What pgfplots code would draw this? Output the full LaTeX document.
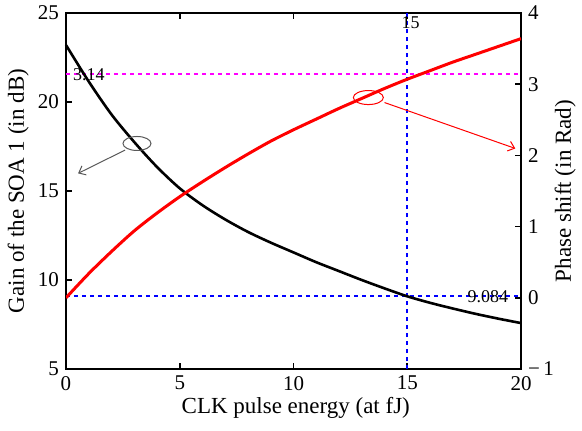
\documentclass[border=0pt]{standalone}
\usepackage{fontspec}
\setmainfont{Liberation Serif}
\usepackage{pgfplots}
\pgfplotsset{compat=1.18}
\usetikzlibrary{arrows.meta}
\definecolor{magline}{RGB}{255,0,255}
\begin{document}
\begin{tikzpicture}
\pgfplotsset{every axis/.append style={
  scale only axis, width=227.5pt, height=178pt,
  xmin=0, xmax=20,
  /pgf/number format/assume math mode=true,
  tick style={black, line width=0.8pt},
  major tick length=3pt, tick align=inside,
  axis line style={line width=1pt},
  tick label style={font=\fontsize{10.5}{12}\selectfont},
  label style={font=\fontsize{11.5}{13}\selectfont},
}}
\begin{axis}[name=ax,
  ymin=5, ymax=25,
  xtick={0,5,10,15,20}, ytick={5,10,15,20,25},
  ytick pos=left,
  xlabel={CLK pulse energy (at fJ)},
  ylabel={Gain of the SOA 1 (in dB)},
  xlabel style={at={(axis description cs:0.505,-0.11)}, anchor=center},
  ylabel style={at={(axis description cs:-0.105,0.5)}, anchor=center},
  clip=false]
% dashed guide lines
\addplot[blue, line width=0.9pt, dash pattern=on 2pt off 2pt] coordinates {(0,9.084) (20,9.084)};
\addplot[blue, line width=0.9pt, dash pattern=on 2pt off 2pt] coordinates {(15,5) (15,25)};
\addplot[magline, line width=1pt, dash pattern=on 2pt off 2pt] coordinates {(0,21.56) (20,21.56)};
% gain curve
\addplot[black, line width=1.3pt, smooth] coordinates {
(0,23.2) (1,21.15) (2,19.3) (3,17.75) (4,16.35) (5,15.15) (6,14.2) (7,13.4)
(8,12.7) (9,12.1) (10,11.55) (11,11.0) (12,10.5) (13,10.0) (14,9.53)
(15,9.084) (16,8.72) (17,8.4) (18,8.1) (19,7.83) (20,7.58)};
% annotations
\node[anchor=west, inner sep=0pt, font=\fontsize{9}{10}\selectfont] at (axis cs:0.3,21.56) {3.14};
\node[anchor=east, inner sep=0pt, font=\fontsize{9}{10}\selectfont] at (axis cs:19.45,9.084) {9.084};
\node[anchor=west, inner sep=0pt, font=\fontsize{9}{10}\selectfont] at (axis cs:14.74,24.45) {15};
\draw[black!65, line width=0.5pt] (axis cs:3.12,17.67) ellipse [x radius=7pt, y radius=3.5pt];
\draw[black!65, line width=0.5pt, -{Straight Barb[length=3pt,width=5pt]}] (axis cs:2.6,17.3) -- (axis cs:0.53,15.99);
\draw[red, line width=0.5pt] (axis cs:13.29,20.25) ellipse [x radius=7.5pt, y radius=3.5pt];
\draw[red, line width=0.5pt, -{Straight Barb[length=3pt,width=5pt]}] (axis cs:14.0,19.97) -- (axis cs:19.75,17.39);
\end{axis}
\begin{axis}[
  ymin=-1, ymax=4,
  axis x line=none, axis y line*=right,
  ytick={-1,0,1,2,3,4},
  yticklabels={−\,1,0,1,2,3,4},
  ylabel={Phase shift (in Rad)},
  ylabel style={at={(axis description cs:1.097,0.5)}, anchor=center}]
\addplot[red, line width=1.5pt, smooth] coordinates {
(0,0) (1,0.34) (2,0.65) (3,0.94) (4,1.19) (5,1.42) (6,1.63) (7,1.83)
(8,2.02) (9,2.20) (10,2.36) (11,2.51) (12,2.66) (13,2.80) (14,2.94)
(15,3.07) (16,3.19) (17,3.31) (18,3.42) (19,3.53) (20,3.64)};
\end{axis}
\pgfresetboundingbox
\path ([shift={(-33pt,-30.5pt)}]ax.south west) rectangle ([shift={(30.5pt,6.5pt)}]ax.north east);
\end{tikzpicture}
\end{document}
